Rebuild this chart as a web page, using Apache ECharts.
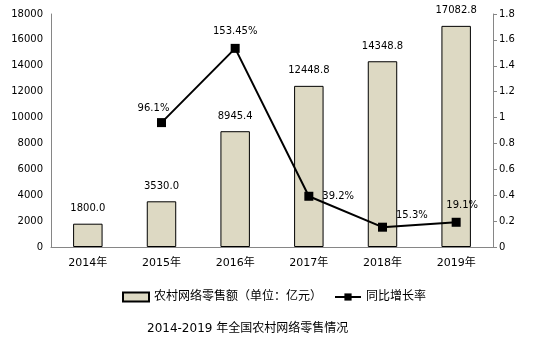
<!DOCTYPE html>
<html><head><meta charset="utf-8">
<script src="https://cdn.jsdelivr.net/npm/echarts@6/dist/echarts.min.js"></script>
<style>html,body{margin:0;padding:0;background:#fff}#c{width:545px;height:339px}</style>
</head><body><div id="c"></div>
<script>
const categories = ['2014年','2015年','2016年','2017年','2018年','2019年'];
const salesValues = [1800.0, 3530.0, 8945.4, 12448.8, 14348.8, 17082.8];
const growthValues = [null, 0.961, 1.5345, 0.392, 0.153, 0.191];
const growthLabels = ['', '96.1%', '153.45%', '39.2%', '15.3%', '19.1%'];
const leftTicks = [0, 18000, 2000];
const rightTicks = [0, 1.8, 0.2];

const FONT = '"DejaVu Sans", "Noto Sans CJK SC", sans-serif';
const labelPos = [null, {position:'top', offset:[-8,0]}, {position:'top', offset:[0,-2]}, {position:'right', offset:[4,0]}, {position:'right', offset:[4,-12]}, {position:'top', offset:[6,-2]}];

const chart = echarts.init(document.getElementById('c'));
chart.setOption({
  animation: false,
  textStyle: {fontFamily: FONT},
  title: {
    text: '2014-2019 年全国农村网络零售情况',
    left: 142, top: 318,
    textStyle: {fontSize: 12, fontWeight: 'normal', color: '#000', fontFamily: FONT}
  },
  legend: {
    top: 286, left: 117,
    itemWidth: 26, itemHeight: 9, itemGap: 12,
    textStyle: {fontSize: 12, color: '#000', fontFamily: FONT},
    data: [
      {name: '农村网络零售额（单位：亿元）', icon: 'rect'},
      {name: '同比增长率'}
    ]
  },
  grid: {left: 51, right: 52, top: 14, bottom: 92, containLabel: false},
  xAxis: {
    type: 'category', data: categories,
    axisLine: {lineStyle: {color: '#868686'}},
    axisTick: {show: false},
    axisLabel: {color: '#000', fontSize: 11, margin: 11, fontFamily: FONT}
  },
  yAxis: [
    {
      type: 'value', min: leftTicks[0], max: leftTicks[1], interval: leftTicks[2],
      axisLine: {show: true, lineStyle: {color: '#868686'}},
      axisTick: {show: false},
      splitLine: {show: false},
      axisLabel: {color: '#000', fontSize: 10, margin: 8, fontFamily: FONT,
        formatter: v => String(v)}
    },
    {
      type: 'value', min: rightTicks[0], max: rightTicks[1], interval: rightTicks[2],
      axisLine: {show: true, lineStyle: {color: '#868686'}},
      axisTick: {show: true, length: 4, lineStyle: {color: '#868686'}},
      splitLine: {show: false},
      axisLabel: {color: '#000', fontSize: 10, margin: 6, fontFamily: FONT,
        formatter: v => String(Math.round(v*10)/10)}
    }
  ],
  series: [
    {
      name: '农村网络零售额（单位：亿元）', type: 'bar', data: salesValues,
      barWidth: '40%',
      itemStyle: {color: '#ddd9c3', borderColor: '#000', borderWidth: 1},
      label: {show: true, position: 'top', distance: 10, color: '#000', fontSize: 10, fontFamily: FONT,
        formatter: p => p.value.toFixed(1)}
    },
    {
      name: '同比增长率', type: 'line', yAxisIndex: 1,
      data: growthValues.map((v, i) => ({
        value: v,
        label: labelPos[i] ? Object.assign({show: true}, labelPos[i]) : {show: false}
      })),
      symbol: 'rect', symbolSize: 9,
      lineStyle: {color: '#000', width: 2},
      itemStyle: {color: '#000'},
      label: {color: '#000', fontSize: 10, fontFamily: FONT,
        formatter: p => growthLabels[p.dataIndex]}
    }
  ]
});
</script></body></html>
